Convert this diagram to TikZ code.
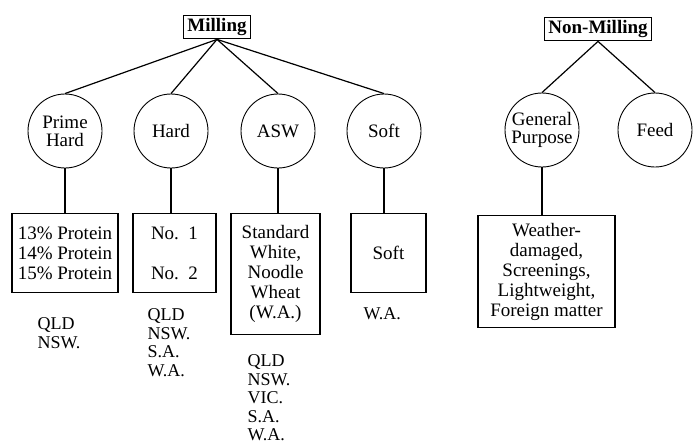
\documentclass[tikz,border=0pt]{standalone}
\usepackage{fontspec}
\setmainfont{Liberation Serif}
\usepackage{tikz}
\begin{document}
\begin{tikzpicture}[x=1pt,y=-1pt,line width=1.2pt,
	head/.style={draw,line width=1.4pt,inner xsep=4pt,inner ysep=3pt,font=\fontsize{19}{20}\selectfont\bfseries},
	grade/.style={draw,circle,line width=0.9pt,minimum size=74pt,inner sep=0pt,align=center,font=\fontsize{19}{18}\selectfont},
	spec/.style={draw,line width=1.4pt,anchor=north,align=center,inner sep=2pt,font=\fontsize{19}{20}\selectfont},
	states/.style={anchor=north west,align=left,inner sep=0pt,font=\fontsize{18}{18.5}\selectfont}]
				\useasboundingbox (0,0) rectangle (693,445);
				\node[head] (mill) at (217,27) {Milling};
				\node[head] (nonmill) at (598,29) {Non-Milling};
				\node[grade] (prime) at (65,131) {Prime\\Hard};
				\node[grade] (hard) at (171,131) {Hard};
				\node[grade] (asw) at (278,131) {ASW};
				\node[grade] (soft) at (384,131) {Soft};
				\node[grade] (gp) at (542,130) {General\\Purpose};
				\node[grade] (feed) at (655,130) {Feed};
				\node[spec,minimum width=106pt,minimum height=79pt] (protein) at (65,213) {13\% Protein\\14\% Protein\\15\% Protein};
				\node[spec,minimum width=83pt,minimum height=79pt] (nos) at (174.5,213) {No.\ \ 1\\[20pt]No.\ \ 2};
				\node[spec,minimum width=89pt,minimum height=121pt] (noodle) at (275.5,213) {Standard\\White,\\Noodle\\Wheat\\(W.A.)};
				\node[spec,minimum width=75pt,minimum height=79pt] (softbox) at (388.5,213) {Soft};
				\node[spec,minimum width=137pt,minimum height=112pt] (weather) at (546.5,215) {Weather-\\damaged,\\Screenings,\\Lightweight,\\Foreign matter};
				\node[states] (st1) at (37,317) {QLD\\NSW.};
				\node[states] (st2) at (147,308) {QLD\\NSW.\\S.A.\\W.A.};
				\node[states] (st3) at (247,354) {QLD\\NSW.\\VIC.\\S.A.\\W.A.};
				\node[states] (st4) at (363,307) {W.A.};
				\draw (mill.south) -- (prime.north);
				\draw (mill.south) -- (hard.north);
				\draw (mill.south) -- (asw.north);
				\draw (mill.south) -- (soft.north);
				\draw (nonmill.south) -- (gp.north);
				\draw (nonmill.south) -- (feed.north);
				\draw (prime.south) -- (prime.south |- protein.north);
				\draw (hard.south) -- (hard.south |- nos.north);
				\draw (asw.south) -- (asw.south |- noodle.north);
				\draw (soft.south) -- (soft.south |- softbox.north);
				\draw (gp.south) -- (gp.south |- weather.north);
			\end{tikzpicture}
\end{document}
